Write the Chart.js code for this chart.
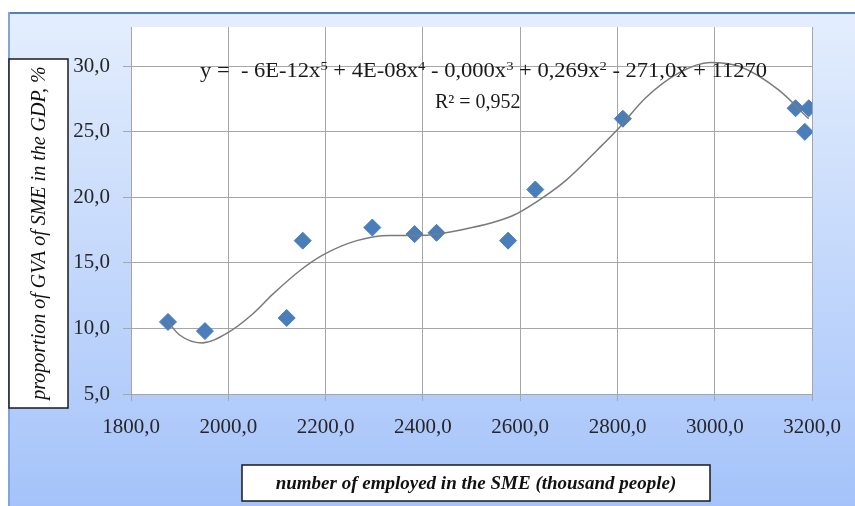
<!DOCTYPE html>
<html>
<head>
<meta charset="utf-8">
<script src="https://cdn.jsdelivr.net/npm/chart.js@4"></script>
<style>
    html, body { margin: 0; padding: 0; background: #ffffff; }
    #wrap { width: 855px; height: 506px; }
</style>
</head>
<body>
<div id="wrap"><canvas id="chart" width="855" height="506"></canvas></div>
<script>
// observed points: employed in SME (thousand people) vs share of GVA in GDP (%)
const employedX = [1876, 1952, 2120, 2153, 2296, 2383, 2428, 2575, 2631, 2811, 3166, 3193, 3185];
const gvaShare = [10.5, 9.8, 10.8, 16.7, 17.7, 17.2, 17.3, 16.7, 20.6, 26.0, 26.8, 26.8, 25.0];

// polynomial trend line
const trendX = [1876, 1900, 1945, 2000, 2050, 2091, 2150, 2194, 2264, 2331, 2393, 2475, 2584, 2639, 2694, 2762, 2803, 2858, 2926, 2990, 3050, 3131, 3193];
const trendY = [10.5, 9.5, 8.9, 9.7, 11.1, 12.6, 14.5, 15.6, 16.7, 17.1, 17.1, 17.5, 18.6, 19.8, 21.3, 23.75, 25.3, 27.6, 29.5, 30.3, 30.0, 28.2, 26.0];

const xTicks = [1800, 2000, 2200, 2400, 2600, 2800, 3000, 3200];
const yTicks = [5, 10, 15, 20, 25, 30];

const equationParts = [
    ["y =  - 6E-12x", "5"], [" + 4E-08x", "4"], [" - 0,000x", "3"], [" + 0,269x", "2"], [" - 271,0x + 11270", ""]
];
const rSquared = "R\u00B2 = 0,952";
const yTitle = "proportion of GVA of SME in the GDP, %";
const xTitle = "number of employed in the SME (thousand people)";

const serif = "'Liberation Serif', 'Times New Roman', serif";
const gridColor = "#a6a6a6";

function toPoints(xs, ys) {
    let data = [];
    for (let i = 0; i < xs.length; i++) {
        data.push({x: xs[i], y: ys[i]});
    }
    return data;
}

function commaNum(v) {
    return v.toFixed(1).replace(".", ",");
}

const backdrop = {
    id: "backdrop",
    beforeDraw(chart) {
        const ctx = chart.ctx;
        const area = chart.chartArea;
        ctx.save();
        ctx.fillStyle = "#ffffff";
        ctx.fillRect(0, 0, chart.width, chart.height);
        const grad = ctx.createLinearGradient(0, 12, 0, chart.height);
        grad.addColorStop(0, "#e4eefd");
        grad.addColorStop(1, "#a5c3fa");
        ctx.fillStyle = grad;
        ctx.fillRect(9, 12, chart.width - 9, chart.height - 12);
        ctx.fillStyle = "#4f81bd";
        ctx.fillRect(9, 12, chart.width - 9, 2);
        ctx.fillStyle = "#7fa4df";
        ctx.fillRect(8, 12, 2, chart.height - 12);
        ctx.fillStyle = "#ffffff";
        ctx.fillRect(area.left, area.top, area.right - area.left, area.bottom - area.top);
        ctx.restore();
    }
};

const labels = {
    id: "labels",
    afterDraw(chart) {
        const ctx = chart.ctx;
        ctx.save();

        // trend equation, stretched to the width it has in the source
        ctx.fillStyle = "#1a1a1a";
        ctx.textBaseline = "alphabetic";
        ctx.textAlign = "left";
        let total = 0;
        for (const [txt, sup] of equationParts) {
            ctx.font = "20px " + serif;
            total += ctx.measureText(txt).width;
            ctx.font = "13px " + serif;
            total += ctx.measureText(sup).width;
        }
        ctx.translate(200, 0);
        ctx.scale(567 / total, 1);
        let x = 0;
        for (const [txt, sup] of equationParts) {
            ctx.font = "20px " + serif;
            ctx.fillText(txt, x, 77);
            x += ctx.measureText(txt).width;
            if (sup) {
                ctx.font = "13px " + serif;
                ctx.fillText(sup, x, 70);
                x += ctx.measureText(sup).width;
            }
        }
        ctx.setTransform(1, 0, 0, 1, 0, 0);
        ctx.font = "20px " + serif;
        ctx.fillText(rSquared, 435, 108);

        // y axis title box
        ctx.fillStyle = "#ffffff";
        ctx.fillRect(9, 59, 59, 349);
        ctx.strokeStyle = "#1a1a1a";
        ctx.lineWidth = 1.5;
        ctx.strokeRect(9, 59, 59, 349);
        ctx.translate(40, 233);
        ctx.rotate(-Math.PI / 2);
        ctx.fillStyle = "#111111";
        ctx.font = "italic 20px " + serif;
        ctx.textAlign = "center";
        ctx.textBaseline = "middle";
        ctx.fillText(yTitle, 0, 0);
        ctx.setTransform(1, 0, 0, 1, 0, 0);

        // x axis title box
        ctx.fillStyle = "#ffffff";
        ctx.fillRect(242, 465, 468, 36);
        ctx.strokeRect(242, 465, 468, 36);
        ctx.fillStyle = "#111111";
        ctx.font = "bold italic 19px " + serif;
        ctx.textAlign = "center";
        ctx.textBaseline = "middle";
        ctx.fillText(xTitle, 476, 484);

        ctx.restore();
    }
};

const config = {
    type: "scatter",
    data: {
        datasets: [{
            label: "trend",
            data: toPoints(trendX, trendY),
            showLine: true,
            borderColor: "#7a7a7a",
            borderWidth: 1.5,
            cubicInterpolationMode: "monotone",
            pointRadius: 0,
            order: 0
        }, {
            label: "share",
            data: toPoints(employedX, gvaShare),
            pointStyle: "rectRot",
            pointRadius: 8.5,
            backgroundColor: "#4a7ebb",
            borderColor: "#4a7ebb",
            borderWidth: 1,
            order: 1
        }]
    },
    options: {
        responsive: false,
        animation: false,
        events: [],
        layout: {
            padding: {left: 0, top: 27, right: 42, bottom: 0}
        },
        plugins: {
            legend: {display: false},
            tooltip: {enabled: false}
        },
        scales: {
            x: {
                type: "linear",
                min: 1800,
                max: 3200,
                afterFit(scale) { scale.height = 112; },
                afterBuildTicks(scale) { scale.ticks = xTicks.map(v => ({value: v})); },
                grid: {color: gridColor, tickLength: 7},
                border: {color: gridColor},
                ticks: {
                    color: "#262626",
                    padding: 14,
                    maxRotation: 0,
                    font: {family: serif, size: 21},
                    callback: v => commaNum(v)
                }
            },
            y: {
                min: 5,
                max: 33,
                afterFit(scale) { scale.width = 131; },
                afterBuildTicks(scale) { scale.ticks = yTicks.map(v => ({value: v})); },
                grid: {color: gridColor, tickLength: 8},
                border: {color: gridColor},
                ticks: {
                    color: "#262626",
                    padding: 13,
                    font: {family: serif, size: 21},
                    callback: v => commaNum(v)
                }
            }
        }
    },
    plugins: [backdrop, labels]
};

const mainChart = new Chart(document.getElementById("chart"), config);
</script>
</body>
</html>
